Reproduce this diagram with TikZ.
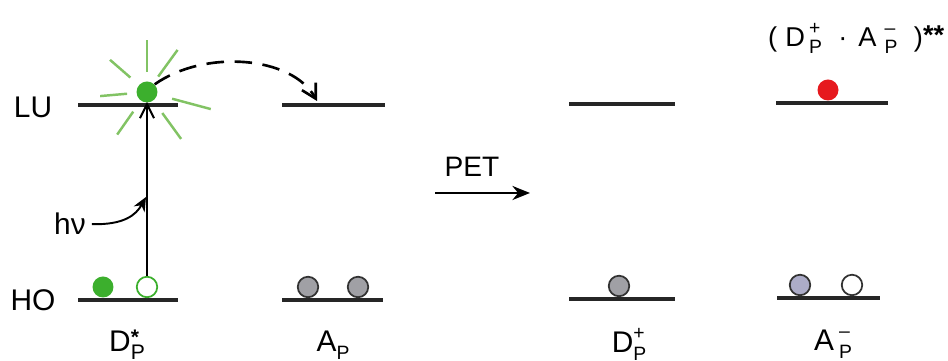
\documentclass[tikz,border=0pt]{standalone}
\usepackage{fontspec}
\setmainfont{Liberation Sans}
\usetikzlibrary{arrows.meta}
\definecolor{dotgreen}{RGB}{60,175,45}
\definecolor{raygreen}{RGB}{130,195,100}
\definecolor{dotgray}{RGB}{160,160,165}
\definecolor{dotblue}{RGB}{172,172,200}
\definecolor{dotred}{RGB}{230,25,30}
% stacked super- and subscript, size given in pt
\newcommand{\supsub}[3][11]{\rlap{\raisebox{0.45em}{\fontsize{#1}{#1}\selectfont #2}}%
  \raisebox{-0.25em}{\fontsize{#1}{#1}\selectfont #3}}

\begin{document}
\begin{tikzpicture}[x=0.02cm, y=0.02cm,
    level/.style={line width=2.2pt, black!85},
    electron/.style={circle, draw=black!80, line width=1pt, inner sep=0pt, minimum size=0.41cm},
    ray/.style={raygreen, line width=1.4pt},
    lbl/.style={font=\fontsize{17}{20}\selectfont, anchor=base}]
  \clip (0,0) rectangle (948,361);

  % energy levels
  \draw[level] (78,256) -- (178,256);
  \draw[level] (78,61) -- (178,61);
  \draw[level] (282,256) -- (385,256);
  \draw[level] (282,61) -- (383,61);
  \draw[level] (569,257) -- (675,257);
  \draw[level] (569,62) -- (675,62);
  \draw[level] (776,258) -- (888,258);
  \draw[level] (777,63) -- (880,63);
  \coordinate (aplu) at (317,260);
  \coordinate (dlu) at (147,259);

  \node[lbl] (lu) at (33,243) {LU};
  \node[lbl] (ho) at (33,50) {HO};

  % excited electron with glow
  \foreach \ang/\rin/\rout in {90/20/52, 139/22/49, 54/19/52, 185/20/47, -15/26/66, 235/24/52, 306/26/58}
    \draw[ray] (147,269) ++(\ang:\rin) -- ++(\ang:\rout-\rin);
  \node[circle, fill=dotgreen, inner sep=0pt, minimum size=0.42cm] (ge) at (147,269) {};

  % electrons on the levels
  \node[circle, fill=dotgreen, inner sep=0pt, minimum size=0.42cm] (gh) at (103,74) {};
  \node[electron, draw=dotgreen, fill=white] (hole) at (147,74) {};
  \node[electron, fill=dotgray] (a1) at (308,74) {};
  \node[electron, fill=dotgray] (a2) at (358,74) {};
  \node[electron, fill=dotgray] (d1) at (619,75) {};
  \node[electron, fill=dotblue] (m1) at (800,76) {};
  \node[electron, fill=white] (m2) at (852,76) {};
  \node[circle, fill=dotred, inner sep=0pt, minimum size=0.42cm] (red) at (828,271) {};

  % excitation and transfer
  \draw[line width=1.1pt, -{Straight Barb[length=8pt, width=8pt]}] (hole.north) -- (dlu);
  \node[lbl, anchor=base west] (hv) at (48,126) {hν};
  \coordinate (hvend) at (146,164);
  \draw[line width=1.1pt, -{Stealth[length=8pt, width=7pt]}] (hv.east) .. controls (124,136) and (136,146) .. (hvend);
  \draw[line width=1.5pt, dash pattern=on 10pt off 6pt, -{Straight Barb[length=8pt, width=9pt]}]
    (ge.north east) .. controls (205,312) and (292,305) .. (aplu);

  \node[lbl, font=\fontsize{16}{19}\selectfont] (pet) at (472,184) {PET};
  \coordinate (pets) at (435,168);
  \coordinate (pete) at (530,168);
  \draw[line width=1.3pt, -{Stealth[length=10pt, width=8pt]}] (pets) -- (pete);

  % labels
  \node[lbl] (dstar) at (127,9) {D\supsub[12]{\raisebox{-0.3em}{\textbf{*}}}{P}};
  \node[lbl] (ap) at (333,9) {A\raisebox{-0.25em}{\fontsize{11}{11}\selectfont P}};
  \node[lbl] (dplus) at (629,8) {D\supsub{+}{P}};
  \node[lbl] (aminus) at (833,10) {A\,\supsub{--}{P}};
  \node[lbl, anchor=base west, font=\fontsize{15.5}{18}\selectfont] (pair) at (762,314)
    {(\hspace{0.3em}D\hspace{0.15em}\supsub{+}{P}\hspace{0.6em}·\hspace{0.4em}A\hspace{0.3em}\supsub{--}{P}\hspace{0.6em})\raisebox{0.1em}{\textbf{**}}};
\end{tikzpicture}
\end{document}
